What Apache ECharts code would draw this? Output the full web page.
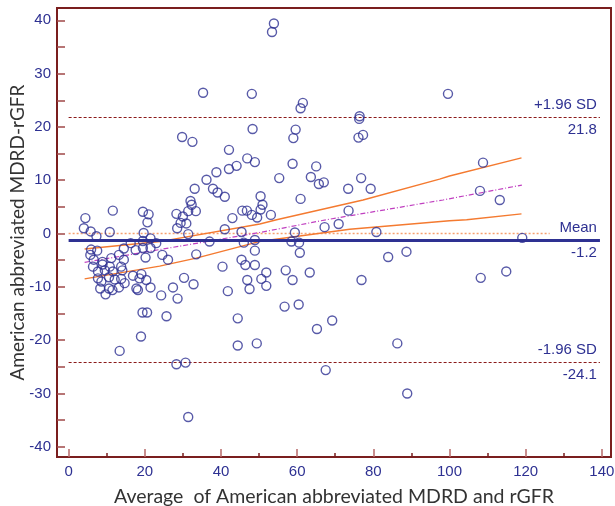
<!DOCTYPE html>
<html><head><meta charset="utf-8">
<script src="https://cdn.jsdelivr.net/npm/echarts@6/dist/echarts.min.js"></script>
<style>html,body{margin:0;padding:0;background:#fff}#c{width:615px;height:506px}</style>
</head><body><div id="c"></div>
<script>
const xTicks = [0,20,40,60,80,100,120,140];
const xMinorTicks = [10,30,50,70,90,110,130];
const yTicks = [-40,-30,-20,-10,0,10,20,30,40];
const yTickMarks = [-40,-35,-30,-25,-20,-15,-10,-5,0,5,10,15,20,25,30,35,40];
const diffPoints = [
[53.9,39.4],[53.4,37.8],[35.3,26.4],[48.1,26.2],[99.6,26.2],[61.5,24.5],[60.9,23.5],[76.4,22.0],[76.3,21.5],
[48.3,19.6],[59.6,19.5],[29.8,18.1],[32.5,17.2],[59.0,17.9],[77.3,18.5],[76.1,18.0],[42.1,15.7],[46.9,14.1],
[48.9,13.4],[44.1,12.7],[42.1,12.1],[38.8,11.5],[36.2,10.1],[58.8,13.1],[65.0,12.6],[63.6,10.6],[55.3,10.4],
[65.7,9.3],[67.0,9.6],[76.8,10.4],[108.8,13.3],[33.1,8.4],[37.9,8.4],[39.1,7.7],[41.0,6.9],[50.4,7.0],
[73.4,8.4],[79.3,8.4],[108.0,8.0],[32.0,6.1],[32.3,5.4],[60.9,6.5],[50.9,5.4],[113.2,6.3],[31.4,4.2],
[33.4,4.2],[50.4,4.5],[45.6,4.3],[46.8,4.3],[73.5,4.3],[11.6,4.3],[19.5,4.1],[21.0,3.6],[28.3,3.7],
[30.0,3.2],[48.1,3.5],[49.5,3.0],[53.1,3.5],[4.4,2.9],[43.0,2.9],[20.7,2.1],[29.4,2.0],[30.9,1.9],
[28.5,1.0],[4.0,1.0],[5.8,0.4],[10.8,0.3],[19.7,0.1],[41.0,0.8],[45.4,0.3],[67.2,1.2],[70.9,1.8],
[59.4,0.2],[80.8,0.3],[31.4,-0.1],[7.3,-0.5],[21.5,-0.9],[23.0,-1.8],[19.5,-1.4],[16.3,-1.8],[17.6,-3.1],
[19.5,-2.7],[21.5,-2.7],[14.5,-2.8],[5.9,-3.0],[7.5,-3.2],[5.7,-4.0],[6.6,-4.9],[8.9,-5.3],[11.2,-4.6],
[13.2,-4.0],[20.2,-4.5],[24.6,-4.0],[26.1,-4.9],[33.5,-3.9],[37.0,-1.5],[46.0,-1.7],[48.9,-1.2],[58.5,-1.5],
[60.5,-1.7],[119.1,-0.8],[48.9,-3.2],[60.7,-3.6],[88.7,-3.4],[83.9,-4.4],[6.4,-6.2],[8.9,-5.8],[10.8,-6.2],
[13.8,-6.2],[14.5,-4.9],[40.4,-6.2],[45.4,-4.9],[46.4,-5.9],[48.9,-5.9],[7.7,-7.1],[9.5,-6.9],[11.6,-7.1],
[14.1,-6.9],[16.9,-7.9],[18.6,-8.4],[19.1,-7.6],[7.7,-8.4],[8.6,-9.0],[10.6,-8.2],[12.1,-8.6],[13.8,-8.5],
[14.7,-9.3],[20.4,-8.7],[8.3,-10.3],[10.6,-10.3],[11.5,-10.6],[13.2,-10.1],[9.7,-11.4],[17.8,-10.3],[18.2,-10.6],
[21.5,-10.1],[24.3,-11.6],[27.4,-10.1],[30.3,-8.3],[32.8,-9.5],[28.6,-12.2],[41.8,-10.8],[46.9,-8.7],[47.5,-10.4],
[50.6,-8.5],[51.9,-7.3],[51.9,-9.8],[57.0,-6.9],[58.8,-8.7],[63.3,-7.3],[76.9,-8.7],[108.2,-8.3],[114.9,-7.1],
[19.4,-14.8],[20.6,-14.8],[25.7,-15.5],[44.4,-15.9],[56.7,-13.7],[60.4,-13.3],[69.2,-16.3],[65.2,-17.9],[19.0,-19.3],
[44.4,-21.0],[49.4,-20.6],[86.3,-20.6],[13.4,-22.0],[28.3,-24.5],[30.7,-24.2],[67.5,-25.6],[88.9,-30.0],[31.4,-34.4]
];
const regressionLine = [[4.2,-5.4],[50.2,0.2],[67.7,2.6],[98.3,6.3],[119.0,9.1]];
const upperCI = [[4.2,-2.9],[23.9,-1.5],[50.2,1.8],[54.6,2.6],[77.3,6.3],[97.4,10.2],[100,10.8],[118.9,14.2]];
const lowerCI = [[4.2,-8.5],[23.9,-6.1],[33.5,-4.6],[50.0,-1.5],[73.8,0.8],[100,2.4],[104.5,2.6],[118.9,3.7]];
const zeroLine = [[0,0],[126.3,0]];
const meanValue = -1.2, upperSD = 21.8, lowerSD = -24.1;
const lineStart = 0, lineEnd = 139.5;

const navy = '#2e3192', maroon = '#7a1e1e', orange = '#f47a30';
const labelFont = {color: navy, fontFamily: 'Liberation Sans, Arial, sans-serif', fontSize: 15};
function refLine(y, top, color, type, width) {
  return [
    {coord:[lineStart,y], lineStyle:{color, type, width}, label:{show:true, position:'insideEndTop', formatter: top, ...labelFont, distance:[3,5]}},
    {coord:[lineEnd,y]}
  ];
}
function refLineBottom(y, bottom) {
  return [
    {coord:[lineStart,y], lineStyle:{color:'rgba(0,0,0,0)', width:0.1}, label:{show:true, position:'insideEndBottom', formatter: bottom, ...labelFont, distance:[3,5]}},
    {coord:[lineEnd,y]}
  ];
}
const chart = echarts.init(document.getElementById('c'), null, {renderer:'canvas'});
chart.setOption({
  animation:false,
  grid:{left:57, right:4, top:8, bottom:49, show:true, borderColor:maroon, borderWidth:2, backgroundColor:'transparent', outerBoundsMode:'none', containLabel:false},
  xAxis:[{
    type:'value', min:-3.05, max:142.4,
    axisLine:{show:false, onZero:false}, splitLine:{show:false},
    axisTick:{show:true, inside:true, length:8, customValues:xTicks, lineStyle:{color:'#b86a6a', width:1.5}},
    axisLabel:{customValues:xTicks, color:navy, fontFamily:'Liberation Sans, Arial, sans-serif', fontSize:15, margin:7},
    name:'Average  of American abbreviated MDRD and rGFR', nameLocation:'middle', nameGap:30, nameMoveOverlap:false,
    nameTextStyle:{color:'#333', fontFamily:'Lato, sans-serif', fontSize:19.5}
  },{
    type:'value', min:-3.05, max:142.4, position:'bottom',
    axisLine:{show:false, onZero:false}, splitLine:{show:false},
    axisTick:{show:true, inside:true, length:4, customValues:xMinorTicks, lineStyle:{color:maroon, width:1.5}},
    axisLabel:{show:false}
  }],
  yAxis:{
    type:'value', min:-41.9, max:42.3,
    axisLine:{show:false, onZero:false}, splitLine:{show:false},
    axisTick:{show:true, inside:true, length:8, customValues:yTickMarks, lineStyle:{color:'#a04848', width:1.5}},
    axisLabel:{customValues:yTicks, color:navy, fontFamily:'Liberation Sans, Arial, sans-serif', fontSize:15, margin:6},
    name:'American abbreviated MDRD-rGFR', nameLocation:'middle', nameGap:30, nameMoveOverlap:false,
    nameTextStyle:{color:'#333', fontFamily:'Lato, sans-serif', fontSize:19}
  },
  series:[
    {type:'line', data:zeroLine, symbol:'none', lineStyle:{color:'#f5a070', type:[2,2], width:1.5}, z:1},
    {type:'line', data:upperCI, symbol:'none', lineStyle:{color:orange, width:1.4}, z:2},
    {type:'line', data:lowerCI, symbol:'none', lineStyle:{color:orange, width:1.4}, z:2},
    {type:'line', data:regressionLine, symbol:'none', lineStyle:{color:'#c040c0', type:[5,2,1,2], width:1.2}, z:2},
    {type:'scatter', data:diffPoints, symbol:'circle', symbolSize:9,
     itemStyle:{color:'rgba(255,255,255,0)', borderColor:navy, borderWidth:1.4}, z:5,
     markLine:{silent:true, symbol:'none', animation:false,
       data:[
         refLine(upperSD, '+1.96 SD', '#8b1a1a', [3,2], 1),
         refLineBottom(upperSD, String(upperSD)),
         refLine(meanValue, 'Mean', navy, 'solid', 3),
         refLineBottom(meanValue, String(meanValue)),
         refLine(lowerSD, '-1.96 SD', '#8b1a1a', [3,2], 1),
         refLineBottom(lowerSD, String(lowerSD))
       ]}
    }
  ]
});
</script></body></html>
